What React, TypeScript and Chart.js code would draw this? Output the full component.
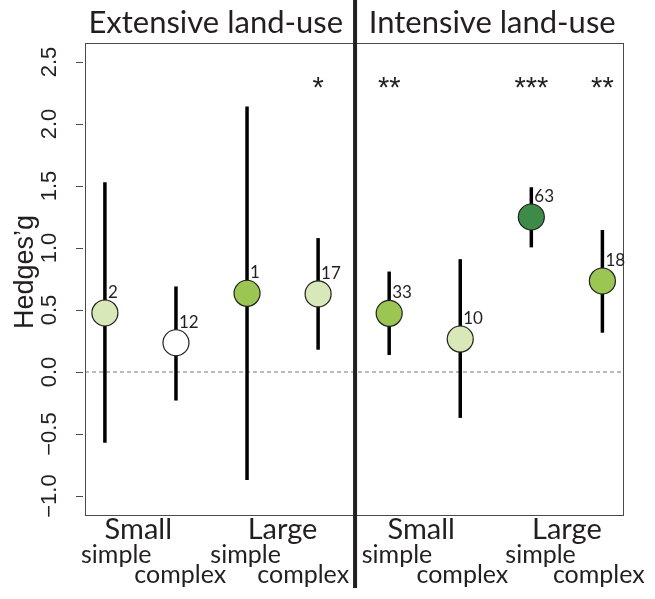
import React, { useEffect, useRef } from "react";
import { Chart, registerables } from "chart.js";

Chart.register(...registerables);

// ---- data ----
const panelTitles = ["Extensive land-use", "Intensive land-use"];
const sizeLabels = ["Small", "Large", "Small", "Large"];
const complexityLabels = ["simple", "complex", "simple", "complex", "simple", "complex", "simple", "complex"];
const positions = [1, 2, 3, 4, 5, 6, 7, 8];
const hedgesG = [0.476, 0.236, 0.635, 0.63, 0.473, 0.266, 1.25, 0.734];
const ciLower = [-0.57, -0.23, -0.87, 0.18, 0.137, -0.37, 1.005, 0.317];
const ciUpper = [1.53, 0.69, 2.14, 1.08, 0.81, 0.91, 1.49, 1.145];
const sampleSizes = ["2", "12", "1", "17", "33", "10", "63", "18"];
const significance = ["", "", "", "*", "**", "", "***", "**"];
const pointColors = ["#d9e8b9", "#ffffff", "#9bc653", "#d9e8b9", "#9bc653", "#d9e8b9", "#3e8a48", "#9bc653"];
const yTicks = [-1.0, -0.5, 0.0, 0.5, 1.0, 1.5, 2.0, 2.5];

// ---- layout (data units) ----
const titleX = [2.56, 6.45];
const sizeLabelX = [1.47, 3.5, 5.45, 7.5];
const subLabelX = [1.16, 2.06, 2.98, 3.79, 5.11, 6.03, 7.13, 7.95];
const separatorX = 4.52;

const INK = "#231f20";

const decor = {
  id: "decor",
  beforeDatasetsDraw(chart: any) {
    const { ctx, chartArea } = chart;
    const xs = chart.scales.x;
    const ys = chart.scales.y;
    ctx.save();
    const y0 = ys.getPixelForValue(0);
    ctx.strokeStyle = "#777";
    ctx.lineWidth = 1;
    ctx.setLineDash([4, 3]);
    ctx.beginPath();
    ctx.moveTo(chartArea.left, y0);
    ctx.lineTo(chartArea.right, y0);
    ctx.stroke();
    ctx.setLineDash([]);
    ctx.strokeStyle = "#000";
    ctx.lineWidth = 3.5;
    ctx.lineCap = "butt";
    positions.forEach((p, i) => {
      const x = xs.getPixelForValue(p);
      ctx.beginPath();
      ctx.moveTo(x, ys.getPixelForValue(ciLower[i]));
      ctx.lineTo(x, ys.getPixelForValue(ciUpper[i]));
      ctx.stroke();
    });
    ctx.restore();
  },
  afterDraw(chart: any) {
    const { ctx, chartArea } = chart;
    const xs = chart.scales.x;
    const ys = chart.scales.y;
    ctx.save();
    ctx.strokeStyle = "#4a4a4a";
    ctx.lineWidth = 1;
    ctx.strokeRect(chartArea.left + 0.5, chartArea.top + 0.5, chartArea.right - chartArea.left, chartArea.bottom - chartArea.top);
    ctx.fillStyle = INK;
    ctx.font = "22px 'Liberation Sans', Arial, sans-serif";
    yTicks.forEach((t) => {
      const y = Math.round(ys.getPixelForValue(t)) + 0.5;
      ctx.beginPath();
      ctx.moveTo(76, y);
      ctx.lineTo(83, y);
      ctx.stroke();
      ctx.save();
      ctx.translate(56, ys.getPixelForValue(t));
      ctx.rotate(-Math.PI / 2);
      ctx.textAlign = "center";
      ctx.textBaseline = "alphabetic";
      ctx.fillText(t.toFixed(1).replace("-", "\u2212"), 0, 0);
      ctx.restore();
    });
    ctx.save();
    ctx.translate(33, 272);
    ctx.rotate(-Math.PI / 2);
    ctx.textAlign = "center";
    ctx.font = "27px 'Liberation Sans', Arial, sans-serif";
    ctx.fillText("Hedges\u2019g", 0, 0);
    ctx.restore();
    const sx = xs.getPixelForValue(separatorX);
    ctx.fillStyle = INK;
    ctx.fillRect(sx - 2, 0, 4, 588);
    ctx.font = "31px Lato, 'Open Sans', sans-serif";
    ctx.textAlign = "center";
    panelTitles.forEach((t, i) => {
      ctx.fillText(t, xs.getPixelForValue(titleX[i]), 33);
    });
    ctx.font = "17px Lato, 'Open Sans', sans-serif";
    ctx.textAlign = "left";
    positions.forEach((p, i) => {
      ctx.fillText(sampleSizes[i], xs.getPixelForValue(p) + 3, ys.getPixelForValue(hedgesG[i]) - 15);
    });
    ctx.font = "29px 'Liberation Sans', Arial, sans-serif";
    ctx.textAlign = "center";
    positions.forEach((p, i) => {
      if (significance[i]) ctx.fillText(significance[i], xs.getPixelForValue(p), 97);
    });
    ctx.font = "29px Lato, 'Open Sans', sans-serif";
    sizeLabels.forEach((t, i) => {
      ctx.fillText(t, xs.getPixelForValue(sizeLabelX[i]), 539);
    });
    ctx.font = "25px Lato, 'Open Sans', sans-serif";
    complexityLabels.forEach((t, i) => {
      const y = t === "simple" ? 563 : 583;
      ctx.fillText(t, xs.getPixelForValue(subLabelX[i]), y);
    });
    ctx.restore();
  },
};

export default function App() {
  const ref = useRef<HTMLCanvasElement>(null);
  useEffect(() => {
    if (!ref.current) return;
    const chart = new Chart(ref.current, {
      type: "scatter",
      data: {
        datasets: [
          {
            data: positions.map((p, i) => ({ x: p, y: hedgesG[i] })),
            pointRadius: 13,
            pointHoverRadius: 13,
            pointBackgroundColor: pointColors,
            pointBorderColor: INK,
            pointBorderWidth: 1.2,
            showLine: false,
            clip: false as any,
          },
        ],
      },
      options: {
        responsive: false,
        animation: false,
        devicePixelRatio: 1,
        layout: { padding: { left: 85, top: 43, right: 32, bottom: 84 } },
        plugins: { legend: { display: false }, tooltip: { enabled: false } },
        events: [],
        scales: {
          x: { type: "linear", min: 0.72, max: 8.29, display: false },
          y: { type: "linear", min: -1.153, max: 2.653, display: false },
        },
      },
      plugins: [decor],
    });
    return () => chart.destroy();
  }, []);
  return (
    <div style={{ position: "absolute", left: 0, top: 0, width: 655, height: 599, background: "#fff" }}>
      <canvas ref={ref} width={655} height={599} />
    </div>
  );
}
